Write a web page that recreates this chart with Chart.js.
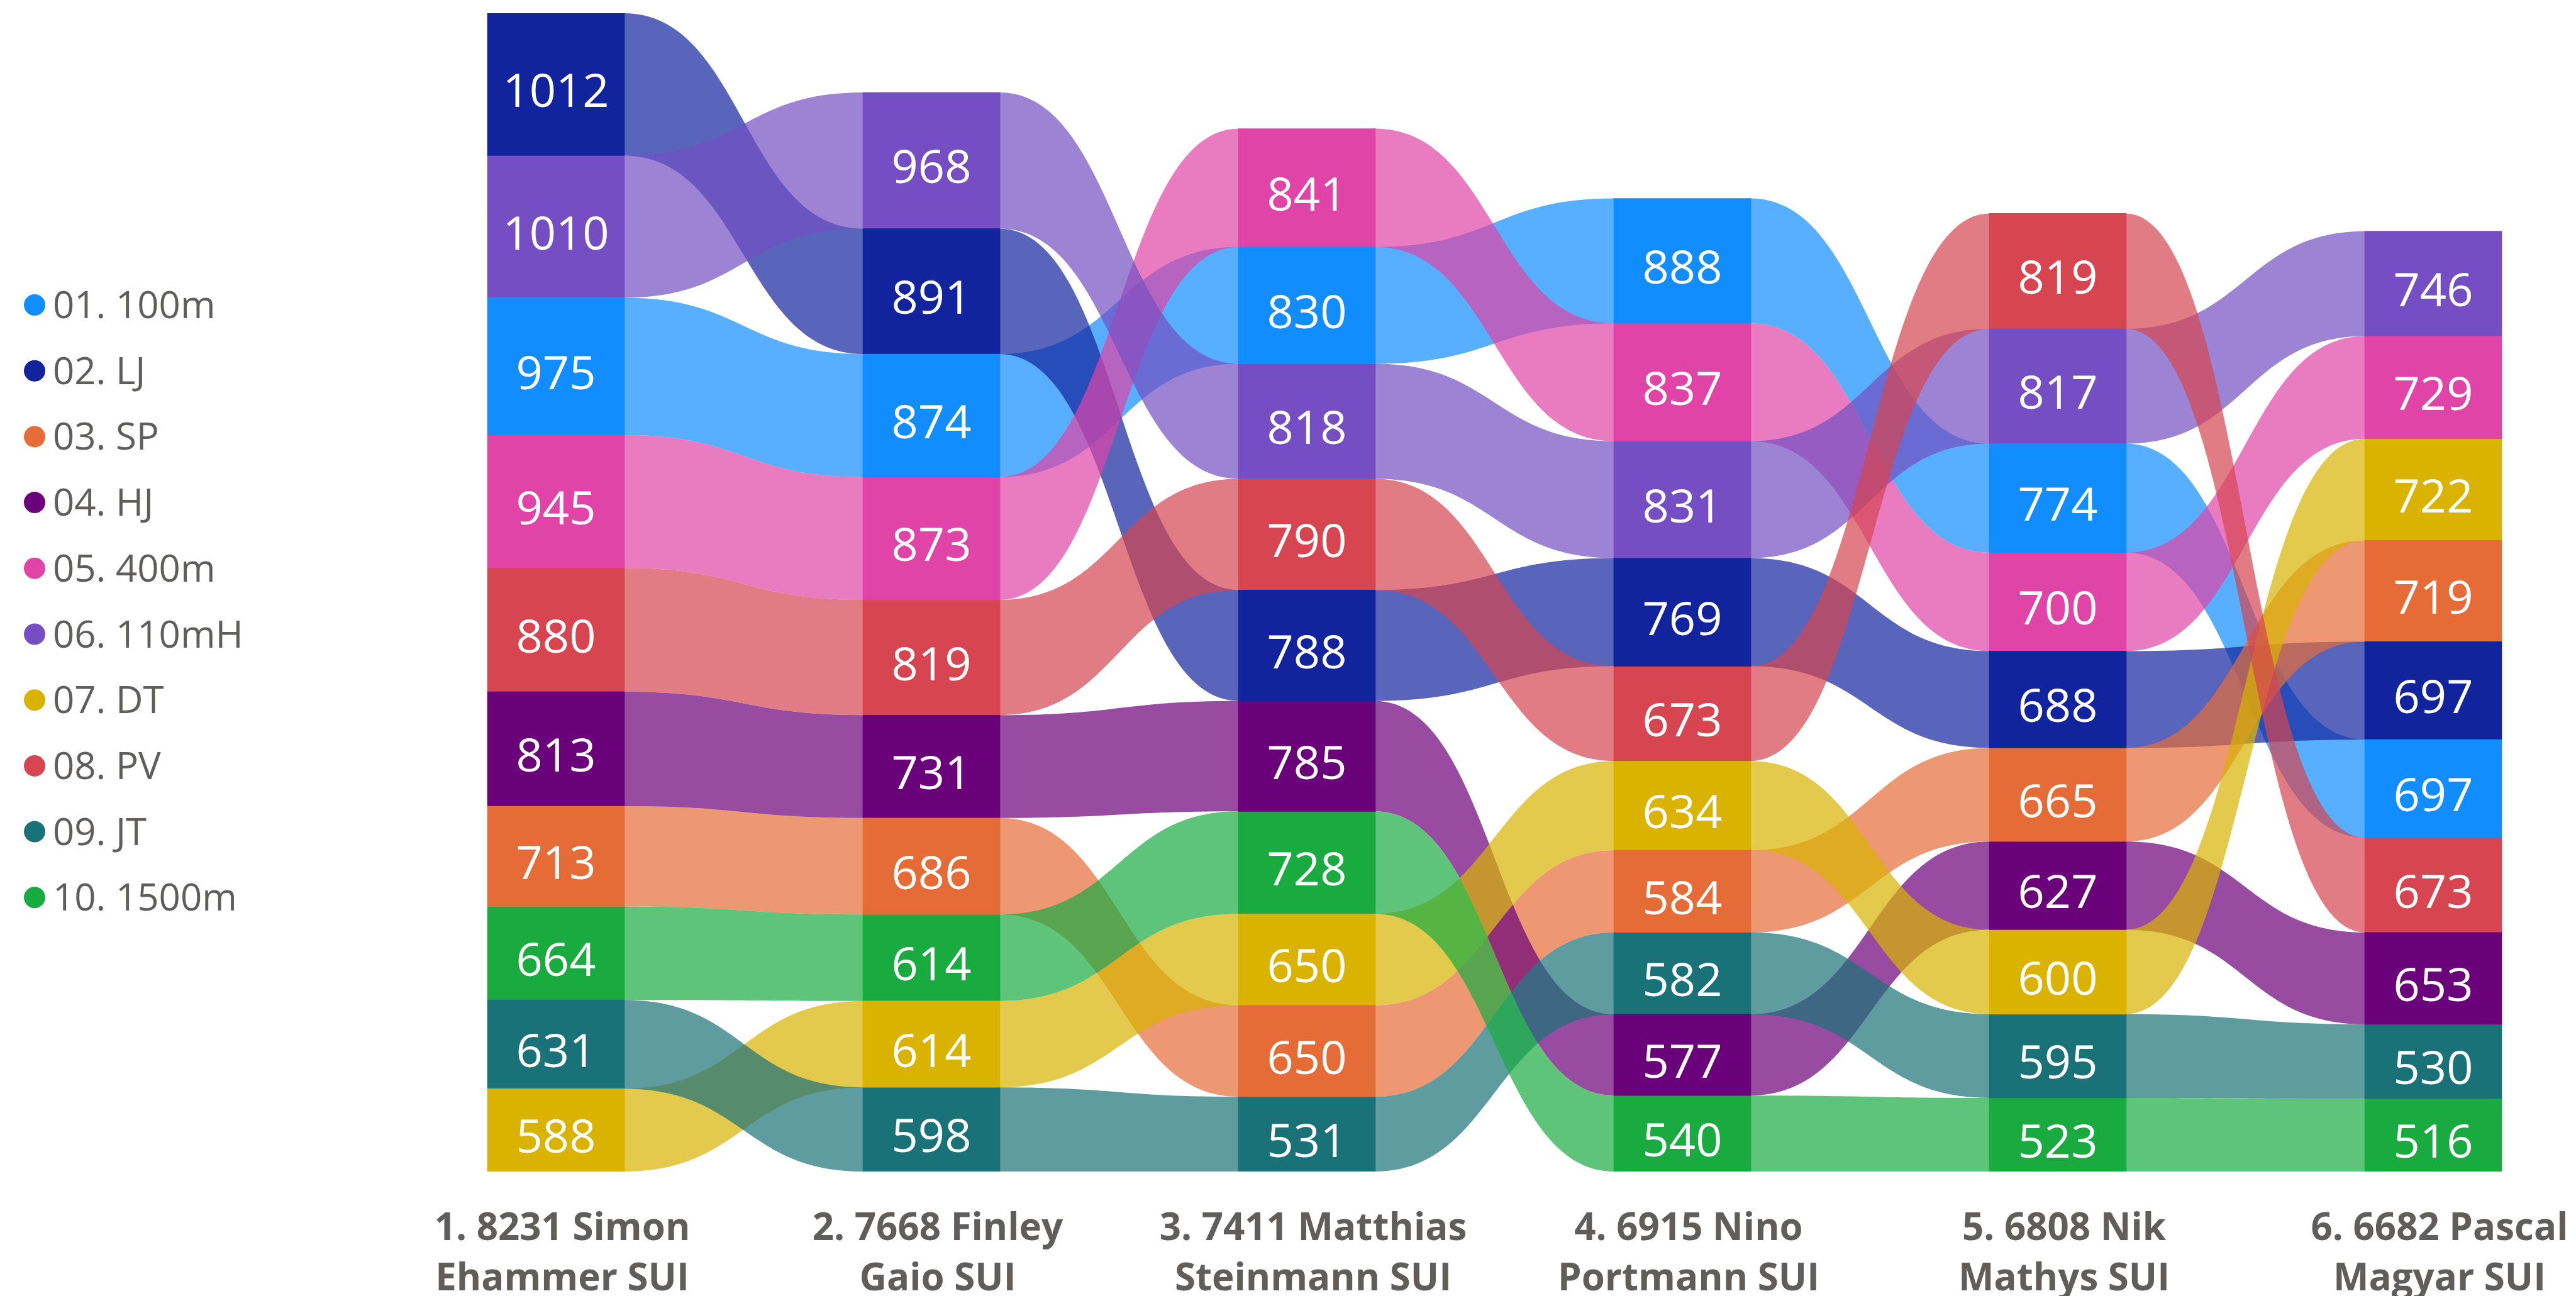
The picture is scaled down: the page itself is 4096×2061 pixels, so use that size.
<!DOCTYPE html>
<html>
<head>
<meta charset="utf-8">
<title>Decathlon ribbon chart</title>
<script src="https://cdn.jsdelivr.net/npm/chart.js@4.4.0/dist/chart.umd.min.js"></script>
<style>
  html, body { margin: 0; padding: 0; background: #fff; }
  canvas { display: block; }
</style>
</head>
<body>
<canvas id="ribbonChart" width="4096" height="2061"></canvas>
<script>
// athletes = x categories, two lines per tick label
const athletes = [
    ['1. 8231 Simon', 'Ehammer SUI'],
    ['2. 7668 Finley', 'Gaio SUI'],
    ['3. 7411 Matthias', 'Steinmann SUI'],
    ['4. 6915 Nino', 'Portmann SUI'],
    ['5. 6808 Nik', 'Mathys SUI'],
    ['6. 6682 Pascal', 'Magyar SUI']
];

const events = ['01. 100m', '02. LJ', '03. SP', '04. HJ', '05. 400m',
                '06. 110mH', '07. DT', '08. PV', '09. JT', '10. 1500m'];

const eventColors = ['#118DFF', '#12239E', '#E66C37', '#6B007B', '#E044A7',
                     '#744EC2', '#D9B300', '#D64550', '#197278', '#1AAB40'];

// points per event, one value per athlete
const pts100m  = [975, 874, 830, 888, 774, 697];
const ptsLJ    = [1012, 891, 788, 769, 688, 697];
const ptsSP    = [713, 686, 650, 584, 665, 719];
const ptsHJ    = [813, 731, 785, 577, 627, 653];
const pts400m  = [945, 873, 841, 837, 700, 729];
const pts110mH = [1010, 968, 818, 831, 817, 746];
const ptsDT    = [588, 614, 650, 634, 600, 722];
const ptsPV    = [880, 819, 790, 673, 819, 673];
const ptsJT    = [631, 598, 531, 582, 595, 530];
const pts1500m = [664, 614, 728, 540, 523, 516];

const seriesValues = [pts100m, ptsLJ, ptsSP, ptsHJ, pts400m,
                      pts110mH, ptsDT, ptsPV, ptsJT, pts1500m];

const textGrey = '#605E5C';

function hexToRgba(hex, a) {
    var n = parseInt(hex.slice(1), 16);
    return 'rgba(' + (n >> 16) + ',' + ((n >> 8) & 255) + ',' + (n & 255) + ',' + a + ')';
}

// ribbon chart: in every column the biggest value sits on top
function buildStacks() {
    var stacks = events.map(() => []);
    athletes.forEach((a, i) => {
        var order = events.map((_, e) => e)
            .sort((p, q) => (seriesValues[q][i] - seriesValues[p][i]) || (q - p));
        var base = 0;
        for (var k = order.length - 1; k >= 0; k--) {
            var e = order[k];
            stacks[e][i] = { x: i, y: [base, base + seriesValues[e][i]] };
            base += seriesValues[e][i];
        }
    });
    return stacks;
}

const stacks = buildStacks();
const totals = athletes.map((_, i) => seriesValues.reduce((s, v) => s + v[i], 0));

// Ribbons between the columns, drawn under the bars
const ribbonPlugin = {
    id: 'ribbons',
    beforeDatasetsDraw(chart) {
        var ctx = chart.ctx;
        events.forEach((ev, e) => {
            var bars = chart.getDatasetMeta(e).data;
            ctx.save();
            ctx.fillStyle = hexToRgba(eventColors[e], 0.7);
            for (var i = 0; i < bars.length - 1; i++) {
                var a = bars[i], b = bars[i + 1];
                var x0 = a.x + a.width / 2 - 1;
                var x1 = b.x - b.width / 2 + 1;
                var xm = (x0 + x1) / 2;
                var aTop = Math.min(a.y, a.base), aBot = Math.max(a.y, a.base);
                var bTop = Math.min(b.y, b.base), bBot = Math.max(b.y, b.base);
                ctx.beginPath();
                ctx.moveTo(x0, aTop);
                ctx.bezierCurveTo(xm, aTop, xm, bTop, x1, bTop);
                ctx.lineTo(x1, bBot);
                ctx.bezierCurveTo(xm, bBot, xm, aBot, x0, aBot);
                ctx.closePath();
                ctx.fill();
            }
            ctx.restore();
        });
    },
    afterDatasetsDraw(chart) {
        // value labels inside the bars
        var ctx = chart.ctx;
        ctx.save();
        ctx.fillStyle = '#ffffff';
        ctx.font = '400 74px "Open Sans"';
        ctx.textAlign = 'center';
        ctx.textBaseline = 'middle';
        events.forEach((ev, e) => {
            chart.getDatasetMeta(e).data.forEach((bar, i) => {
                ctx.fillText(String(seriesValues[e][i]), bar.x, (bar.y + bar.base) / 2 + 15);
            });
        });
        ctx.restore();
    }
};

// Legend on the left (dots + names)
const legendPlugin = {
    id: 'sideLegend',
    afterDraw(chart) {
        var ctx = chart.ctx;
        ctx.save();
        ctx.font = '400 60px "Open Sans"';
        ctx.textBaseline = 'middle';
        ctx.textAlign = 'left';
        events.forEach((name, e) => {
            var y = 485 + e * 104.7;
            ctx.fillStyle = eventColors[e];
            ctx.beginPath();
            ctx.arc(55, y, 17, 0, Math.PI * 2);
            ctx.fill();
            ctx.fillStyle = textGrey;
            ctx.fillText(name, 84, y + 4);
        });
        ctx.restore();
    }
};

const chart = new Chart(document.getElementById('ribbonChart'), {
    type: 'bar',
    data: {
        datasets: events.map((name, e) => ({
            label: name,
            data: stacks[e],
            backgroundColor: eventColors[e],
            borderWidth: 0,
            grouped: false,
            barThickness: 218
        }))
    },
    options: {
        responsive: false,
        devicePixelRatio: 1,
        animation: false,
        layout: { padding: { left: 585.5, right: 107.6, top: 21, bottom: 0 } },
        plugins: {
            legend: { display: false },
            tooltip: { enabled: false }
        },
        scales: {
            x: {
                type: 'linear',
                offset: false,
                min: -0.5,
                max: 5.2,
                afterBuildTicks: function(scale) {
                    scale.ticks = athletes.map((_, i) => ({ value: i }));
                },
                afterFit: function(scale) {
                    scale.height = 198;
                    scale.paddingLeft = 0;
                    scale.paddingRight = 0;
                },
                grid: { display: false, drawTicks: false },
                border: { display: false },
                ticks: {
                    autoSkip: false,
                    maxRotation: 0,
                    padding: 52,
                    labelOffset: 10,
                    color: textGrey,
                    font: { family: '"Open Sans"', size: 60, weight: '700', lineHeight: 1.333 },
                    callback: function(value) {
                        return athletes[value] || '';
                    }
                }
            },
            y: {
                display: false,
                min: 0,
                max: Math.max(...totals)
            }
        }
    },
    plugins: [ribbonPlugin, legendPlugin]
});
</script>
</body>
</html>
